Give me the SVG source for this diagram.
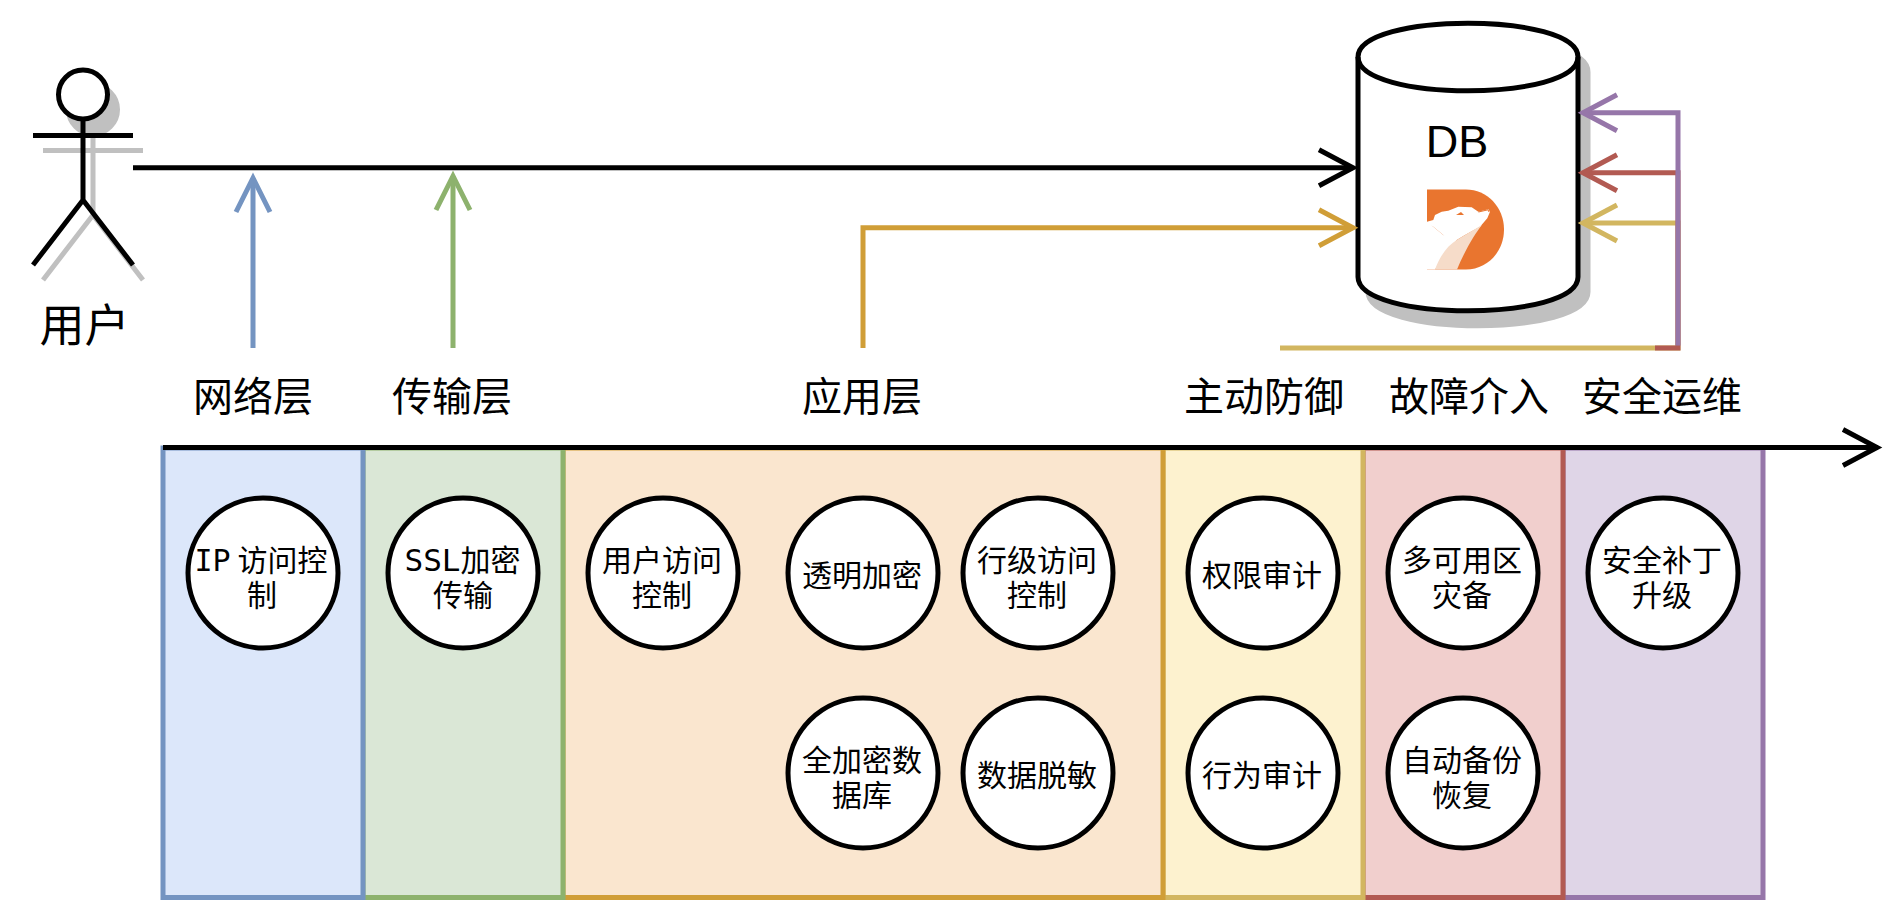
<svg xmlns="http://www.w3.org/2000/svg" width="1904" height="922" viewBox="0 0 1904 922">
<style>
text{font-family:"Noto Sans CJK SC","Noto Sans",sans-serif;fill:#000;text-anchor:middle}
.lab{font-size:40px}
.c{font-size:30px}
.m{font-family:"DejaVu Sans Mono","Noto Sans CJK SC",monospace}
.circ{fill:#fff;stroke:#000;stroke-width:5}
.band{stroke-width:5}
.ln{fill:none;stroke-width:5}
.sh{fill:none;stroke:#c0c0c0;stroke-width:5}
</style>
<defs>
<marker id="aK" markerUnits="userSpaceOnUse" orient="auto" overflow="visible" markerWidth="40" markerHeight="40" refX="0" refY="0"><path d="M-34,-18L0,0L-34,18" fill="none" stroke="#000" stroke-width="5"/></marker>
<marker id="aB" markerUnits="userSpaceOnUse" orient="auto" overflow="visible" markerWidth="40" markerHeight="40" refX="0" refY="0"><path d="M-34,-17L0,0L-34,17" fill="none" stroke="#7494c1" stroke-width="5"/></marker>
<marker id="aG" markerUnits="userSpaceOnUse" orient="auto" overflow="visible" markerWidth="40" markerHeight="40" refX="0" refY="0"><path d="M-34,-17L0,0L-34,17" fill="none" stroke="#8db26d" stroke-width="5"/></marker>
<marker id="aO" markerUnits="userSpaceOnUse" orient="auto" overflow="visible" markerWidth="40" markerHeight="40" refX="0" refY="0"><path d="M-34,-18L0,0L-34,18" fill="none" stroke="#d09e37" stroke-width="5"/></marker>
<marker id="aY" markerUnits="userSpaceOnUse" orient="auto" overflow="visible" markerWidth="40" markerHeight="40" refX="0" refY="0"><path d="M-34,-18L0,0L-34,18" fill="none" stroke="#d2b660" stroke-width="5"/></marker>
<marker id="aR" markerUnits="userSpaceOnUse" orient="auto" overflow="visible" markerWidth="40" markerHeight="40" refX="0" refY="0"><path d="M-34,-18L0,0L-34,18" fill="none" stroke="#b25a52" stroke-width="5"/></marker>
<marker id="aP" markerUnits="userSpaceOnUse" orient="auto" overflow="visible" markerWidth="40" markerHeight="40" refX="0" refY="0"><path d="M-34,-18L0,0L-34,18" fill="none" stroke="#9676a9" stroke-width="5"/></marker>
</defs>

<g id="band-ops"><rect class="band" x="1563" y="448" width="200" height="449.500" fill="#dfd5e7" stroke="#9676a9"/></g>
<g id="band-fault"><rect class="band" x="1363" y="448" width="200" height="449.500" fill="#f1cfcd" stroke="#b25a52"/></g>
<g id="band-defense"><rect class="band" x="1163" y="448" width="200" height="449.500" fill="#fdf2cf" stroke="#d2b660"/></g>
<g id="band-app"><rect class="band" x="563" y="448" width="600" height="449.500" fill="#fae6cf" stroke="#d09e37"/></g>
<g id="band-transport"><rect class="band" x="363" y="448" width="200" height="449.500" fill="#dae7d6" stroke="#8db26d"/></g>
<g id="band-network"><rect class="band" x="163" y="448" width="200" height="449.500" fill="#dce7fa" stroke="#7494c1"/></g>

<g id="user">
<g class="sh" transform="translate(10,15)"><circle cx="83" cy="94.500" r="24.500" fill="#c0c0c0"/><path d="M83,119V200M33,135.500H133M33,265L83,200L133,265"/></g>
<circle cx="83" cy="94.500" r="24.500" fill="#fff" stroke="#000" stroke-width="5"/>
<path d="M83,119V200M33,135.500H133M33,265L83,200L133,265" fill="none" stroke="#000" stroke-width="5"/>
<text x="84.500" y="342" style="font-size:45px">用户</text>
</g>

<g id="db">
<path transform="translate(10,15)" d="M1358,57C1358,12 1578,12 1578,57V277C1578,322 1358,322 1358,277Z" fill="#c0c0c0" stroke="#c0c0c0" stroke-width="5"/>
<path d="M1358,57C1358,12 1578,12 1578,57V277C1578,322 1358,322 1358,277Z" fill="#fff" stroke="#000" stroke-width="5"/>
<path d="M1578,57C1578,102 1358,102 1358,57" fill="none" stroke="#000" stroke-width="5"/>
<text x="1457" y="157" style="font-family:'Liberation Sans',Arial,sans-serif;font-size:45px">DB</text>
<g id="db-logo">
<path d="M1427,189.500H1466C1487,189.500 1504,207 1504,229.500C1504,252 1487,269.500 1466,269.500H1427Z" fill="#e9752f"/>
<path d="M1427,222V269.500H1435L1456.700,240L1443.300,235L1433.300,226.700Z" fill="#fff"/>
<path d="M1427,221.700L1433.300,220L1435,215L1441.700,211.700L1448.300,210.700L1458.300,206.700L1471.700,207.300L1478.300,211.700L1488.300,209.300L1490,211.700L1487.300,218.300L1480,226.700L1465,235L1456.700,240L1448.300,240.700L1443.300,235L1433.300,226.700L1427,224Z" fill="#fff"/>
<path d="M1435,269.500C1440,256 1447,246 1456.700,240L1465,235L1482,225C1476,232 1465,250 1457,269.500Z" fill="#f6dcc9"/>
<path d="M1456,215L1461,212L1464,215Z" fill="#e9752f"/>
<path d="M1478.500,212L1488,209.800L1489,212" fill="none" stroke="#e9752f" stroke-width="1"/>
</g>
</g>

<g id="connectors">
<path class="ln" stroke="#000" d="M133,167.700H1353" marker-end="url(#aK)"/>
<path class="ln" stroke="#7494c1" d="M253,348V178" marker-end="url(#aB)"/>
<path class="ln" stroke="#8db26d" d="M453,348V176" marker-end="url(#aG)"/>
<path class="ln" stroke="#d09e37" d="M863,348V227.700H1353" marker-end="url(#aO)"/>
<path class="ln" stroke="#d2b660" d="M1280,348H1678V223H1583" marker-end="url(#aY)"/>
<path class="ln" stroke="#b25a52" d="M1655,348H1680.500M1678,348V172.700H1583" marker-end="url(#aR)"/>
<path class="ln" stroke="#9676a9" d="M1678,345.500V112.700H1583" marker-end="url(#aP)"/>
<path class="ln" stroke="#000" d="M163,447.500H1877" marker-end="url(#aK)"/>
</g>

<g id="labels">
<text class="lab" x="253" y="411">网络层</text>
<text class="lab" x="452" y="411">传输层</text>
<text class="lab" x="862" y="411">应用层</text>
<text class="lab" x="1264" y="411">主动防御</text>
<text class="lab" x="1469" y="411">故障介入</text>
<text class="lab" x="1662" y="411">安全运维</text>
</g>

<g id="n-ip"><circle class="circ" cx="263" cy="573" r="75"/><text class="c" x="261" y="571"><tspan class="m">IP</tspan> 访问控</text><text class="c" x="262" y="606">制</text></g>
<g id="n-ssl"><circle class="circ" cx="463" cy="573" r="75"/><text class="c" x="462.500" y="571"><tspan class="m" style="font-size:31px">SSL</tspan>加密</text><text class="c" x="463" y="606">传输</text></g>
<g id="n-user"><circle class="circ" cx="663" cy="573" r="75"/><text class="c" x="662" y="571">用户访问</text><text class="c" x="662" y="606">控制</text></g>
<g id="n-tde"><circle class="circ" cx="863" cy="573" r="75"/><text class="c" x="862" y="586">透明加密</text></g>
<g id="n-row"><circle class="circ" cx="1038" cy="573" r="75"/><text class="c" x="1037" y="571">行级访问</text><text class="c" x="1037" y="606">控制</text></g>
<g id="n-fulldb"><circle class="circ" cx="863" cy="773" r="75"/><text class="c" x="862" y="771">全加密数</text><text class="c" x="862" y="806">据库</text></g>
<g id="n-mask"><circle class="circ" cx="1038" cy="773" r="75"/><text class="c" x="1037" y="786">数据脱敏</text></g>
<g id="n-perm"><circle class="circ" cx="1263" cy="573" r="75"/><text class="c" x="1262" y="586">权限审计</text></g>
<g id="n-behav"><circle class="circ" cx="1263" cy="773" r="75"/><text class="c" x="1262" y="786">行为审计</text></g>
<g id="n-az"><circle class="circ" cx="1463" cy="573" r="75"/><text class="c" x="1462" y="571">多可用区</text><text class="c" x="1462" y="606">灾备</text></g>
<g id="n-backup"><circle class="circ" cx="1463" cy="773" r="75"/><text class="c" x="1462" y="771">自动备份</text><text class="c" x="1462" y="806">恢复</text></g>
<g id="n-patch"><circle class="circ" cx="1663" cy="573" r="75"/><text class="c" x="1662" y="571">安全补丁</text><text class="c" x="1662" y="606">升级</text></g>
</svg>
